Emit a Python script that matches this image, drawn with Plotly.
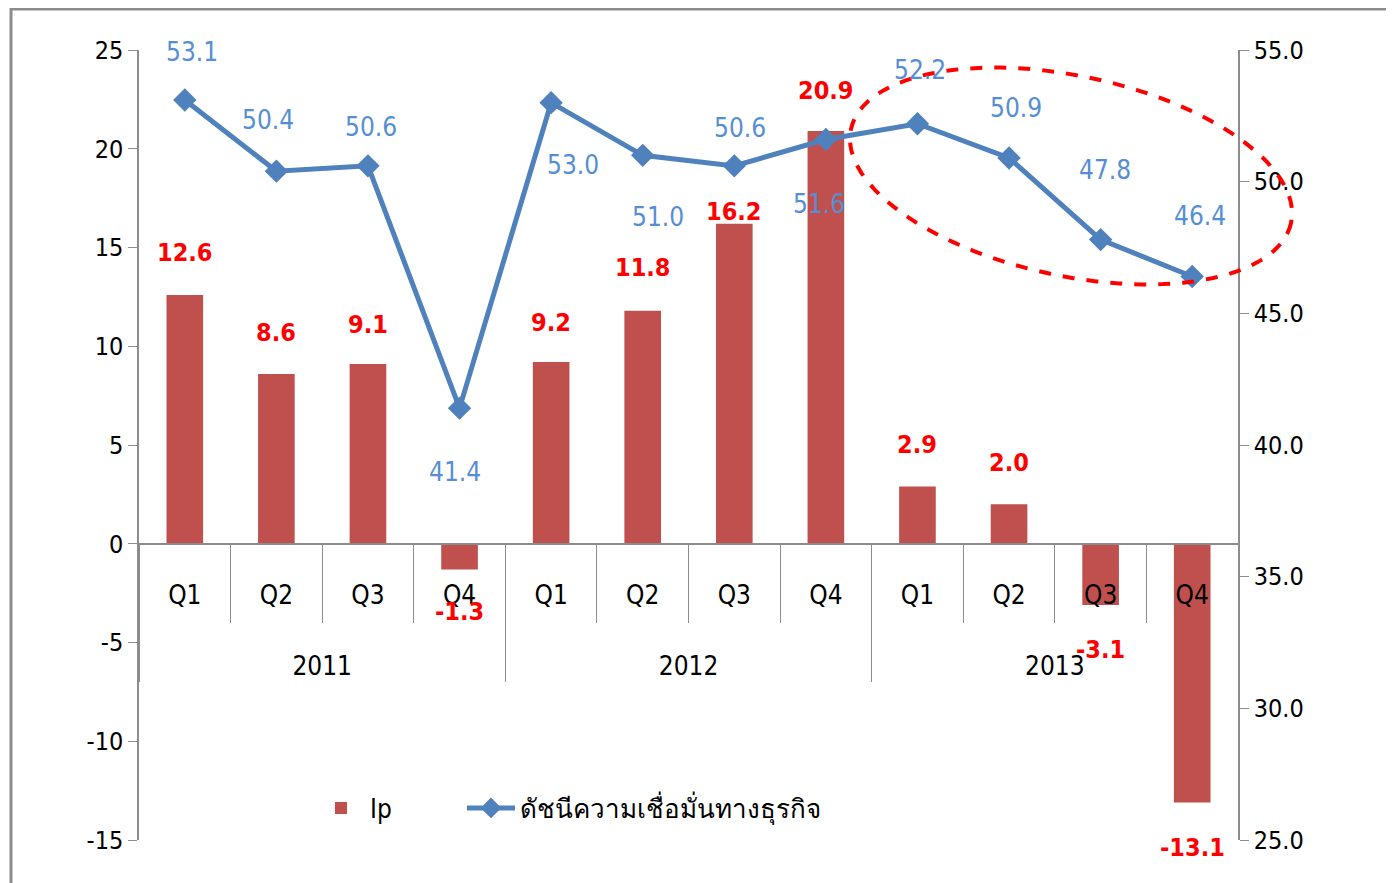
import numpy as np
import plotly.graph_objects as go

# data
YEARS = ['2011'] * 4 + ['2012'] * 4 + ['2013'] * 4
QUARTERS = ['Q1', 'Q2', 'Q3', 'Q4'] * 3
IP = [12.6, 8.6, 9.1, -1.3, 9.2, 11.8, 16.2, 20.9, 2.9, 2.0, -3.1, -13.1]
BCI = [53.1, 50.4, 50.6, 41.4, 53.0, 51.0, 50.6, 51.6, 52.2, 50.9, 47.8, 46.4]
Y1_TICKS = [-15, -10, -5, 0, 5, 10, 15, 20, 25]
Y2_TICKS = [25, 30, 35, 40, 45, 50, 55]

IP_NAME = 'Ip'
BCI_NAME = 'ดัชนีความเชื่อมั่นทางธุรกิจ'

# label placement (pixels, +up) as positioned in the original
IP_SHIFT = [42, 41, 40, -42, 40, 43, 12, 40, 42, 42, -45, -45]
BCI_SHIFT_Y = [48, 51, 39, -64, -62, -62, 38, -64, 54, 50, 70, 60]
BCI_SHIFT_X = [7, -8, 3, -5, 22, 15, 6, -7, 3, 7, 4, 8]

FONT = 'Liberation Sans Narrow, DejaVu Sans Condensed, Liberation Sans, sans-serif'
RED_BAR = '#C0504D'
BLUE = '#4F81BD'
GREY = '#8C8C8C'

# page has an 8px body margin, so size the figure to fill the rest of the window
OFF = 8
W, H = 1394 - OFF, 883 - OFF
M = dict(l=131, r=156, t=42, b=43)
PW = W - M['l'] - M['r']
PH = H - M['t'] - M['b']


def px_to_paper(x, y):
    # x, y in window pixels
    return (x - OFF - M['l']) / PW, (H - M['b'] - (y - OFF)) / PH


fig = go.Figure()

# year labels get blank lines first so they sit well below the quarters
year_level = ['<br><br>' + y for y in YEARS]

fig.add_trace(go.Bar(
    x=[year_level, QUARTERS], y=IP, name=IP_NAME,
    marker=dict(color=RED_BAR, line=dict(width=0)),
    yaxis='y', legend='legend'
))

fig.add_trace(go.Scatter(
    x=[year_level, QUARTERS], y=BCI, name=BCI_NAME, mode='lines+markers',
    line=dict(color=BLUE, width=5),
    marker=dict(symbol='diamond', size=18, color=BLUE),
    yaxis='y2', legend='legend2'
))

annotations = []
for i, v in enumerate(IP):
    annotations.append(dict(
        x=i, y=v, xref='x', yref='y', text=f'{v:.1f}', showarrow=False,
        yshift=IP_SHIFT[i], font=dict(family=FONT, size=25, color='#FF0000', weight='bold')
    ))
for i, v in enumerate(BCI):
    annotations.append(dict(
        x=i, y=v, xref='x', yref='y2', text=f'{v:.1f}', showarrow=False,
        xshift=BCI_SHIFT_X[i], yshift=BCI_SHIFT_Y[i],
        font=dict(family=FONT, size=26, color='#558ED5')
    ))

# tilted dashed ellipse highlighting 2013
cx, cy, a, b, ang = 1071, 176, 225, 100, np.radians(12)
t = np.linspace(0, 2 * np.pi, 121)
ex = cx + a * np.cos(t) * np.cos(ang) - b * np.sin(t) * np.sin(ang)
ey = cy + a * np.cos(t) * np.sin(ang) + b * np.sin(t) * np.cos(ang)
pts = [px_to_paper(x, y) for x, y in zip(ex, ey)]
path = 'M ' + ' L '.join(f'{p[0]:.4f},{p[1]:.4f}' for p in pts) + ' Z'

fx0, fy0 = px_to_paper(11, OFF + 1)
fx1, fy1 = px_to_paper(1388, 900)

shapes = [
    dict(type='rect', xref='paper', yref='paper', x0=fx0, x1=fx1, y0=fy1, y1=fy0,
         line=dict(color=GREY, width=3), layer='below'),
    dict(type='path', xref='paper', yref='paper', path=path,
         line=dict(color='#FF0000', width=4, dash='dash')),
]

l1x, ly = px_to_paper(312, 808)
l2x, _ = px_to_paper(462, 808)
legend_style = dict(orientation='h', y=ly, xanchor='left', yanchor='middle',
                    itemwidth=48, font=dict(family=FONT, size=26),
                    bgcolor='rgba(0,0,0,0)')

fig.update_layout(
    width=W, height=H, margin=M,
    paper_bgcolor='white', plot_bgcolor='white',
    font=dict(family=FONT, size=26, color='#000000'),
    bargap=0.6,
    showlegend=True,
    legend=dict(x=l1x, **legend_style),
    legend2=dict(x=l2x, **legend_style),
    xaxis=dict(
        type='multicategory', anchor='free', position=15 / 40,
        range=[-0.5, len(IP) - 0.5], autorange=False,
        showline=True, linecolor=GREY, linewidth=1.5,
        ticks='outside', tickson='boundaries', ticklen=78, tickcolor=GREY,
        showdividers=True, dividercolor=GREY, dividerwidth=1,
        ticklabelstandoff=28,
        showgrid=False, tickfont=dict(size=26)
    ),
    yaxis=dict(
        range=[-15, 25], tickmode='array', tickvals=Y1_TICKS,
        ticktext=[str(v) for v in Y1_TICKS],
        showgrid=False, zeroline=False,
        showline=True, linecolor=GREY, linewidth=1.5,
        ticks='outside', ticklen=9, tickcolor=GREY, tickfont=dict(size=25)
    ),
    yaxis2=dict(
        range=[25, 55], tickmode='array', tickvals=Y2_TICKS,
        ticktext=[f'{v:.1f}' for v in Y2_TICKS],
        overlaying='y', side='right',
        showgrid=False, zeroline=False,
        showline=True, linecolor=GREY, linewidth=1.5,
        ticks='outside', ticklen=9, tickcolor=GREY, tickfont=dict(size=25)
    ),
    annotations=annotations,
    shapes=shapes,
)

fig.write_html('out.html')
